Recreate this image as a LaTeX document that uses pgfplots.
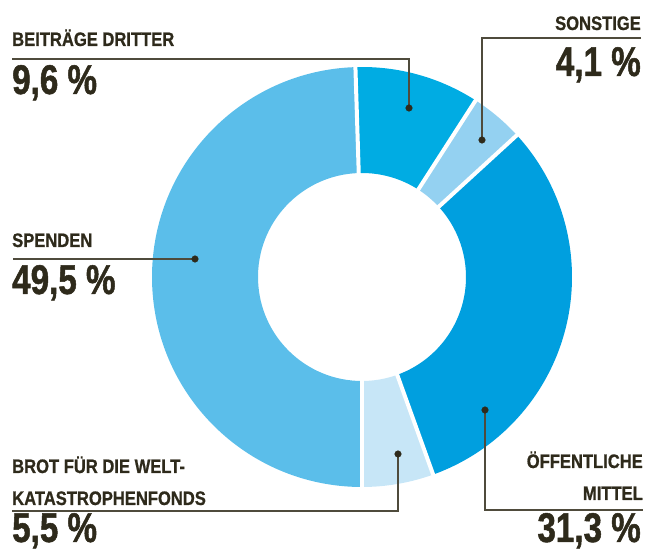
\documentclass[border=0pt]{standalone}
\usepackage{pgfplots}
\pgfplotsset{compat=1.18}
\usepackage{pgfplotstable}
\usepackage{fontspec}
\setmainfont{Liberation Sans}
\newfontfamily\labfont{Liberation Sans}[FakeStretch=0.85, FakeBold=0.8]
\newfontfamily\numfont{Liberation Sans}[FakeStretch=0.8, FakeBold=1.2]
\definecolor{cSpe}{HTML}{5BBEEA}
\definecolor{cBei}{HTML}{00ACE3}
\definecolor{cSon}{HTML}{94D1F1}
\definecolor{cOef}{HTML}{009FDF}
\definecolor{cBrot}{HTML}{C7E6F7}
\definecolor{txt}{HTML}{2E2A1B}
\definecolor{lead}{HTML}{4F4B3C}
\pgfplotstableread{
value
9.6
4.1
31.3
5.5
49.5
}\shares
\newcommand{\lab}{\labfont\bfseries\fontsize{19.5}{19.5}\selectfont\color{txt}}
\newcommand{\num}{\numfont\bfseries\fontsize{41.5}{41.5}\selectfont\color{txt}}
\begin{document}
\begin{tikzpicture}
\begin{axis}[name=ax, x=1pt, y=1pt, xmin=0, xmax=645, ymin=0, ymax=551,
  hide axis, clip=false, scale only axis]
\pgfplotsextra{
  \begin{scope}[shift={(axis cs:362,274)}]
  \xdef\acur{91.8}
  \foreach \i/\c in {0/cBei,1/cSon,2/cOef,3/cBrot,4/cSpe}{
    \pgfplotstablegetelem{\i}{value}\of\shares
    \pgfmathsetmacro\aend{\acur-3.6*\pgfplotsretval}
    \fill[\c] (\acur:104pt) -- (\acur:210pt) arc[start angle=\acur,end angle=\aend,radius=210pt]
      -- (\aend:104pt) arc[start angle=\aend,end angle=\acur,radius=104pt] -- cycle;
    \xdef\acur{\aend}
  }
  \xdef\acur{91.8}
  \foreach \i in {0,1,2,3,4}{
    \draw[white, line width=4pt] (\acur:100pt) -- (\acur:214pt);
    \pgfplotstablegetelem{\i}{value}\of\shares
    \pgfmathsetmacro\aend{\acur-3.6*\pgfplotsretval}
    \xdef\acur{\aend}
  }
  \end{scope}
}
% leader lines
\addplot[lead, line width=1.3pt, no marks] coordinates {(12,492) (409,492) (409,443)};
\addplot[lead, line width=1.3pt, no marks] coordinates {(641,513) (482,513) (482,411)};
\addplot[lead, line width=1.3pt, no marks] coordinates {(13,292) (195,292)};
\addplot[lead, line width=1.3pt, no marks] coordinates {(12,40) (398,40) (398,97)};
\addplot[lead, line width=1.3pt, no marks] coordinates {(485,141) (485,41) (643,41)};
% dots
\addplot[only marks, mark=*, mark size=3.3pt, txt] coordinates {(409,443) (482,411) (195,292) (398,97) (485,141)};
% labels
\node[anchor=base west, inner sep=0pt] at (axis cs:12,505) {\lab BEITRÄGE DRITTER};
\node[anchor=base west, inner sep=0pt] at (axis cs:12,457) {\num 9,6 \%};
\node[anchor=base east, inner sep=0pt] at (axis cs:641,521) {\lab SONSTIGE};
\node[anchor=base east, inner sep=0pt] at (axis cs:641,475) {\num 4,1 \%};
\node[anchor=base west, inner sep=0pt] at (axis cs:12,304) {\lab SPENDEN};
\node[anchor=base west, inner sep=0pt] at (axis cs:12,257) {\num 49,5 \%};
\node[anchor=base west, inner sep=0pt] at (axis cs:12,78) {\lab BROT FÜR DIE WELT-};
\node[anchor=base west, inner sep=0pt] at (axis cs:12,46) {\lab KATASTROPHENFONDS};
\node[anchor=base west, inner sep=0pt] at (axis cs:12,9) {\num 5,5 \%};
\node[anchor=base east, inner sep=0pt] at (axis cs:643,83) {\lab ÖFFENTLICHE};
\node[anchor=base east, inner sep=0pt] at (axis cs:643,51) {\lab MITTEL};
\node[anchor=base east, inner sep=0pt] at (axis cs:641,9) {\num 31,3 \%};
\end{axis}
\pgfresetboundingbox
\path (ax.south west) rectangle (ax.north east);
\end{tikzpicture}
\end{document}
